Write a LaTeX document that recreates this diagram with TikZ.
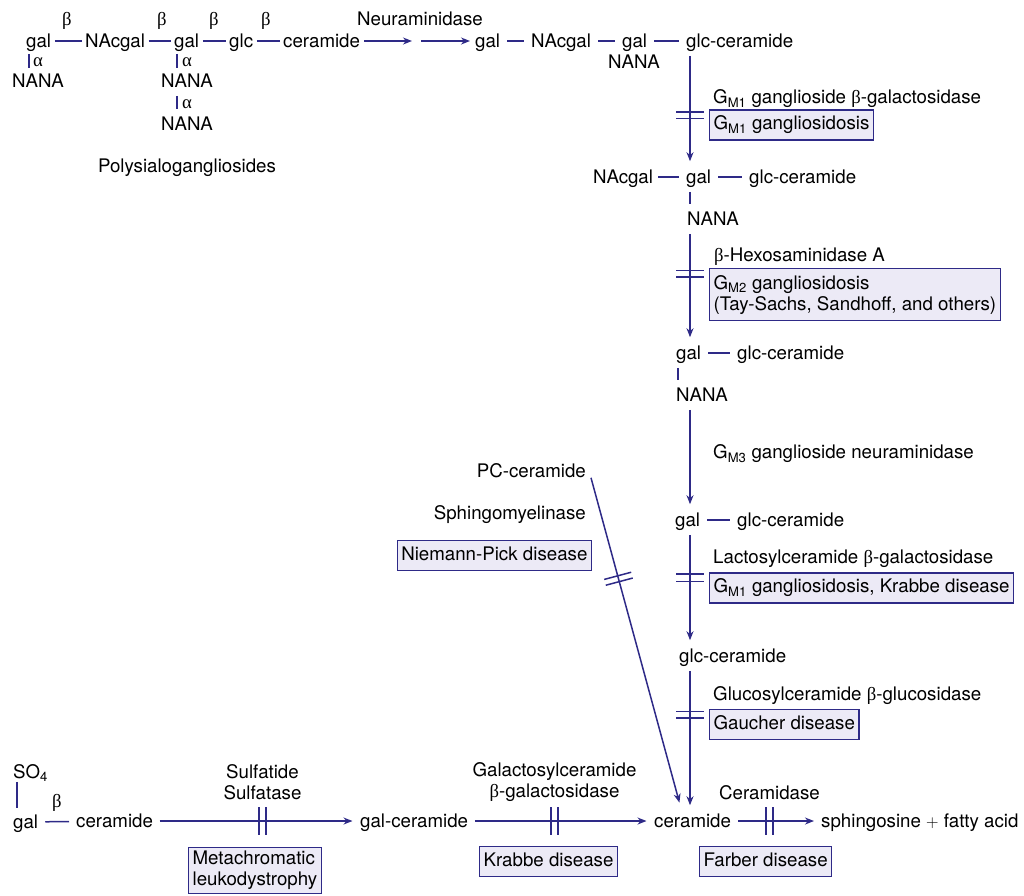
\documentclass[tikz,border=0pt]{standalone}
\usepackage{fontspec}
\setmainfont{TeX Gyre Heros}
\newfontfamily\grkfont{Liberation Serif}
\usetikzlibrary{arrows.meta}
\definecolor{pathblue}{RGB}{46,42,135}
\definecolor{boxfill}{RGB}{236,234,246}
\newcommand{\gbeta}{{\grkfont β}}
\newcommand{\galpha}{{\grkfont α}}

\begin{document}
\begin{tikzpicture}[>={Stealth[length=9pt,width=7pt]}, x=1pt, y=-1pt,
    font=\fontsize{18.7}{21}\selectfont,
    txt/.style={inner sep=0pt, text height=13.2pt, text depth=0pt},
    lbl/.style={inner sep=0pt, align=center},
    dz/.style={draw=pathblue, fill=boxfill, line width=1.2pt, inner xsep=4pt, inner ysep=0pt,
        text height=13.2pt, text depth=4pt, minimum height=30pt, anchor=west},
    dzz/.style={draw=pathblue, fill=boxfill, line width=1.2pt, inner xsep=4pt, inner ysep=3pt,
        align=left, anchor=north west},
    bond/.style={draw=pathblue, line width=1.5pt, shorten <=3.5pt, shorten >=3.5pt},
    bondw/.style={bond, shorten <=7pt, shorten >=7pt},
    vbond/.style={draw=pathblue, line width=1.5pt, shorten <=7pt, shorten >=7pt},
    rxn/.style={draw=pathblue, line width=1.5pt, ->, shorten <=4pt, shorten >=5pt},
    vrxn/.style={rxn, shorten <=8pt, shorten >=9pt},
    hrxn/.style={rxn, shorten <=6.5pt, shorten >=7.5pt},
    bar/.style={draw=pathblue, line width=1.5pt}]
    \useasboundingbox (0,0) rectangle (1024,895);

    % Polysialogangliosides
    \node[txt, anchor=west] (gal1) at (26,41) {gal};
    \node[txt, anchor=west] (nac1) at (85,41) {NAcgal};
    \node[txt, anchor=west] (gal2) at (174,41) {gal};
    \node[txt, anchor=west] (glc1) at (229,41) {glc};
    \node[txt, anchor=west] (cer1) at (283,41) {ceramide};
    \draw[bond] (gal1) -- (nac1);
    \draw[bond] (nac1) -- (gal2);
    \draw[bond] (gal2) -- (glc1);
    \draw[bond] (glc1) -- (cer1);
    \node[txt] (b1) at (67,19) {\gbeta};
    \node[txt] (b2) at (162,19) {\gbeta};
    \node[txt] (b3) at (214,19) {\gbeta};
    \node[txt] (b4) at (266,19) {\gbeta};
    \node[txt] (nana1) at (38,81) {NANA};
    \node[txt] (nana2) at (187,81) {NANA};
    \node[txt] (nana3) at (187,124) {NANA};
    \draw[vbond, shorten <=6pt, shorten >=6pt] ([xshift=3pt]gal1.south west) -- ([xshift=3pt]gal1.south west |- nana1.north);
    \draw[vbond, shorten <=6pt, shorten >=6pt] ([xshift=3pt]gal2.south west) -- ([xshift=3pt]gal2.south west |- nana2.north);
    \draw[vbond, shorten <=8pt, shorten >=8pt] ([xshift=3pt]gal2.south west |- nana2.south) -- ([xshift=3pt]gal2.south west |- nana3.north);
    \node[txt] (a1) at (38,60) {\galpha};
    \node[txt] (a2) at (187,60) {\galpha};
    \node[txt] (a3) at (187,102) {\galpha};
    \node[txt] (poly) at (187,166) {Polysialogangliosides};

    % Neuraminidase
    \coordinate (nm) at (417,41);
    \node[txt] (neur) at (420,19) {Neuraminidase};
    \node[txt, anchor=west] (gal3) at (475,41) {gal};
    \node[txt, anchor=west] (nac2) at (531,41) {NAcgal};
    \node[txt, anchor=west] (gal4) at (622,41) {gal};
    \node[txt, anchor=west] (glc2) at (686,41) {glc-ceramide};
    \node[txt] (nana4) at (634,62) {NANA};
    \draw[rxn] (cer1) -- (nm);
    \draw[rxn] (nm) -- (gal3);
    \draw[bondw] (gal3) -- (nac2);
    \draw[bondw] (nac2) -- (gal4);
    \draw[bondw] (gal4) -- (glc2);

    \coordinate (spine) at (690,0);

    % G_M1 step
    \node[txt, anchor=west] (e1) at (713,97) {G\textsubscript{M1} ganglioside \gbeta-galactosidase};
    \node[dz] (gm1box) at (709,125) {G\textsubscript{M1} gangliosidosis};
    \node[txt, anchor=west] (nac3) at (593,177) {NAcgal};
    \node[txt, anchor=west] (gal5) at (686,177) {gal};
    \node[txt, anchor=west] (glc3) at (749,177) {glc-ceramide};
    \node[txt, anchor=west] (nana5) at (687,219) {NANA};
    \draw[bondw, shorten <=5pt] (nac3) -- (gal5);
    \draw[bondw] (gal5) -- (glc3);
    \draw[vbond, shorten <=8pt, shorten >=8pt] (spine |- gal5.south) -- (spine |- nana5.north);
    \draw[vrxn] (spine |- glc2.south) -- (spine |- gal5.north);
    \draw[bar] ([shift={(-14,2.5)}]spine |- gm1box.north) -- ++(28,0)
               ([shift={(-14,9)}]spine |- gm1box.north) -- ++(28,0);

    % G_M2 step
    \node[txt, anchor=west] (e2) at (714,255) {\gbeta-Hexosaminidase A};
    \node[dzz, minimum height=52pt] (gm2box) at (709,268) {G\textsubscript{M2} gangliosidosis\\(Tay-Sachs, Sandhoff, and others)};
    \node[txt, anchor=west] (gal6) at (676,353) {gal};
    \node[txt, anchor=west] (glc4) at (737,353) {glc-ceramide};
    \node[txt, anchor=west] (nana6) at (676,395) {NANA};
    \draw[bondw] (gal6) -- (glc4);
    \draw[vbond, shorten <=8pt, shorten >=8pt] ([xshift=2pt]gal6.south west) -- ([xshift=2pt]gal6.south west |- nana6.north);
    \draw[vrxn] (spine |- nana5.south) -- (spine |- gal6.north);
    \draw[bar] ([shift={(-14,2.5)}]spine |- gm2box.north) -- ++(28,0)
               ([shift={(-14,9)}]spine |- gm2box.north) -- ++(28,0);

    % G_M3 step
    \node[txt, anchor=west] (e3) at (713,452) {G\textsubscript{M3} ganglioside neuraminidase};
    \node[txt, anchor=west] (gal7) at (675,520) {gal};
    \node[txt, anchor=west] (glc5) at (737,520) {glc-ceramide};
    \draw[bondw] (gal7) -- (glc5);
    \draw[vrxn] (spine |- nana6.south) -- (spine |- gal7.north);

    % lactosylceramide step
    \node[txt, anchor=west] (e4) at (713,557) {Lactosylceramide \gbeta-galactosidase};
    \node[dz] (kbox) at (709,588) {G\textsubscript{M1} gangliosidosis, Krabbe disease};
    \node[txt, anchor=west] (glc6) at (679,656) {glc-ceramide};
    \draw[vrxn] (spine |- gal7.south) -- (spine |- glc6.north);
    \draw[bar] ([shift={(-14,1.5)}]spine |- kbox.north) -- ++(28,0)
               ([shift={(-14,9)}]spine |- kbox.north) -- ++(28,0);

    % glucosylceramide step
    \node[txt, anchor=west] (e5) at (713,694) {Glucosylceramide \gbeta-glucosidase};
    \node[dz] (gbox) at (709,724.5) {Gaucher disease};
    \node[txt, anchor=west] (cer2) at (654,821) {ceramide};
    \draw[vrxn] (spine |- glc6.south) -- (spine |- cer2.north);
    \draw[bar] ([shift={(-14,2.5)}]spine |- gbox.north) -- ++(28,0)
               ([shift={(-14,9)}]spine |- gbox.north) -- ++(28,0);

    % sphingomyelin
    \node[txt, anchor=east] (pc) at (586,471) {PC-ceramide};
    \node[txt, anchor=east] (smase) at (586,513) {Sphingomyelinase};
    \node[dz, anchor=east] (npbox) at (592,555.5) {Niemann-Pick disease};
    \draw[rxn, shorten <=0pt, shorten >=12pt] ([xshift=5pt]pc.south east) -- ([xshift=-10pt]cer2.north);
    \path ([xshift=5pt]pc.south east) -- coordinate[pos=0.3] (dbar) ([xshift=-10pt]cer2.north);
    \draw[bar] ([shift={(-14.3,0.7)}]dbar) -- ([shift={(12.7,-6.5)}]dbar)
               ([shift={(-12.7,6.5)}]dbar) -- ([shift={(14.3,-0.7)}]dbar);

    % sulfatide pathway
    \node[txt, anchor=west] (so4) at (13,772) {SO\textsubscript{4}};
    \node[txt, anchor=west] (gal8) at (13,822) {gal};
    \node[txt, anchor=west] (cer3) at (76,821) {ceramide};
    \node[txt] (b5) at (57,801) {\gbeta};
    \draw[vbond, shorten <=3pt, shorten >=7pt] ([xshift=4pt]so4.south west) -- ([xshift=4pt]so4.south west |- gal8.north);
    \draw[bondw] (gal8) -- (cer3);
    \node[txt, anchor=west] (galcer) at (360,821) {gal-ceramide};
    \node[txt, anchor=west] (sph) at (821,821) {sphingosine $+$ fatty acid};

    \node[lbl] (sulf) at (262.5,782) {Sulfatide\\Sulfatase};
    \node[lbl] (galase) at (554.5,782) {Galactosylceramide\\\gbeta-galactosidase};
    \node[txt] (cdase) at (769.5,793) {Ceramidase};

    \draw[hrxn] (cer3) -- (galcer);
    \draw[hrxn] (galcer) -- (cer2);
    \draw[hrxn, shorten <=7pt, shorten >=7pt] (cer2) -- (sph);
    \draw[bar] ([shift={(-3.5,-14)}]sulf |- cer3) -- ++(0,28)
               ([shift={(3.5,-14)}]sulf |- cer3) -- ++(0,28);
    \draw[bar] ([shift={(-3.5,-14)}]galase |- cer3) -- ++(0,28)
               ([shift={(3.5,-14)}]galase |- cer3) -- ++(0,28);
    \draw[bar] ([shift={(-3.5,-14)}]cdase |- cer3) -- ++(0,28)
               ([shift={(3.5,-14)}]cdase |- cer3) -- ++(0,28);

    \node[dzz, minimum height=46pt] (mldbox) at (188,847) {Metachromatic\\leukodystrophy};
    \node[dz] (krbox) at (479,861.5) {Krabbe disease};
    \node[dz] (fbox) at (699,861.5) {Farber disease};
\end{tikzpicture}
\end{document}
